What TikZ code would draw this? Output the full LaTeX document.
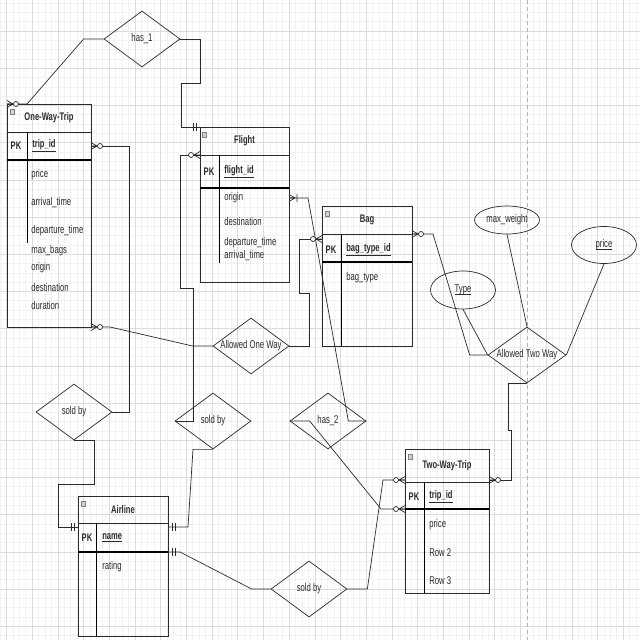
\documentclass[tikz,border=0pt]{standalone}
\usepackage{fontspec}
\setmainfont{Liberation Sans}[FakeStretch=0.69]
\usetikzlibrary{positioning,shapes.geometric,calc}
\definecolor{InkDark}{HTML}{2B2B2B}
\definecolor{GridMinor}{HTML}{F2F2F2}
\definecolor{GridMajor}{HTML}{DCDCDC}

% dotted underline for the ellipse labels
\newcommand{\dotund}[1]{\setbox0\hbox{#1}\rlap{\lower2pt\hbox to \wd0{%
  \leaders\hbox to 1pt{\hss\vrule width 0.5pt height 0.4pt\hss}\hfill}}\box0}

\tikzset{
  zmany/.pic={\draw[InkDark] (0,-3.5) -- (6,0) -- (0,3.5) (0,0) -- (6,0);
              \draw[InkDark,fill=white] (9,0) circle (2.5pt);},
  mone/.pic={\draw[InkDark] (4,-4) -- (4,4) (7,-4) -- (7,4);},
  omany/.pic={\draw[InkDark] (0,-3.5) -- (6,0) -- (0,3.5) (0,0) -- (6,0) (8,-4) -- (8,4);},
}

\begin{document}
\begin{tikzpicture}[x=1pt,y=-1pt,line width=0.7pt,
  every node/.style={font=\fontsize{11.2}{12}\selectfont, text=InkDark},
  hd/.style={draw=InkDark, inner sep=0pt, outer sep=0pt,
             font=\bfseries\fontsize{11}{12}\selectfont},
  rw/.style={draw=InkDark, inner sep=0pt, outer sep=0pt},
  att/.style={anchor=west, inner sep=0pt},
  pk/.style={inner sep=0pt, font=\bfseries\fontsize{11}{12}\selectfont},
  rel/.style={draw=InkDark, diamond, inner sep=0pt, minimum width=76pt, minimum height=56pt},
  prop/.style={draw=InkDark, ellipse, inner sep=0pt, minimum width=65pt},
  mns/.style={draw=gray, fill=gray!35, minimum width=4pt, minimum height=5pt, inner sep=0pt, line width=0.3pt},
  ln/.style={draw=InkDark},
]
  \useasboundingbox (0,0) rectangle (640,640);
  \fill[white] (0,0) rectangle (640,640);

  % Grid
  \foreach \k [evaluate=\k as \gx using 6.3+6.425*\k] in {-1,...,98}
    \draw[GridMinor,line width=0.4pt] (\gx,0) -- (\gx,640);
  \foreach \k [evaluate=\k as \gy using 30.9+9.3*\k] in {-4,...,66}
    \draw[GridMinor,line width=0.4pt] (0,\gy) -- (640,\gy);
  \foreach \k [evaluate=\k as \gx using 6.3+25.7*\k] in {0,...,24}
    \draw[GridMajor,line width=0.4pt] (\gx,0) -- (\gx,640);
  \foreach \k [evaluate=\k as \gy using 30.9+37.2*\k] in {-1,...,16}
    \draw[GridMajor,line width=0.4pt] (0,\gy) -- (640,\gy);
  \draw[gray!60,line width=0.6pt,dash pattern=on 4pt off 3pt] (527,0) -- (527,640);

  % One-Way-Trip
  \node[hd, minimum width=84pt, minimum height=28pt, anchor=north west] (owthd) at (7,104) {One-Way-Trip};
  \node[rw, minimum width=84pt, minimum height=28pt, below=0pt of owthd] (owtpk) {};
  \node[rw, minimum width=84pt, minimum height=167pt, below=0pt of owtpk] (owtbd) {};
  \draw[line width=1.1pt] (owtpk.south west) -- (owtpk.south east);
  \draw ([xshift=20pt]owtpk.north west) -- ++(0,111);
  \node[mns, below right=5pt and 3pt of owthd.north west] (owtmn) {};
  \node[pk] (owtpkl) at (16,146) {PK};
  \node[att, pk] (owtid) at (32,146) {\underline{trip\_id}};
  \foreach \t/\y in {price/175, arrival\_time/203, departure\_time/231, max\_bags/251,
                     origin/268, destination/287, duration/305}
    \node[att] at (31,\y) {\t};

  % Flight
  \node[hd, minimum width=89pt, minimum height=28pt, anchor=north west] (flthd) at (200,127) {Flight};
  \node[rw, minimum width=89pt, minimum height=33pt, below=0pt of flthd] (fltpk) {};
  \node[rw, minimum width=89pt, minimum height=94pt, below=0pt of fltpk] (fltbd) {};
  \draw[line width=1.1pt] (fltpk.south west) -- (fltpk.south east);
  \draw ([xshift=19pt]fltpk.north west) -- ++(0,108);
  \node[mns, below right=5pt and 2pt of flthd.north west] (fltmn) {};
  \node[pk] (fltpkl) at (209,172) {PK};
  \node[att, pk] (fltid) at (224,172) {\underline{flight\_id}};
  \foreach \t/\y/\n in {origin/198/fltorg, destination/221/fltdst,
                        departure\_time/243/fltdep, arrival\_time/256/fltarr}
    \node[att] (\n) at (224,\y) {\t};

  % Bag
  \node[hd, minimum width=90pt, minimum height=28pt, anchor=north west] (baghd) at (322,206) {Bag};
  \node[rw, minimum width=90pt, minimum height=28pt, below=0pt of baghd] (bagpk) {};
  \node[rw, minimum width=90pt, minimum height=84pt, below=0pt of bagpk] (bagbd) {};
  \draw[line width=1.1pt] (bagpk.south west) -- (bagpk.south east);
  \draw ([xshift=19pt]bagpk.north west) -- ([xshift=19pt]bagbd.south west);
  \node[mns, below right=5pt and 3pt of baghd.north west] (bagmn) {};
  \node[pk] (bagpkl) at (331,250) {PK};
  \node[att, pk] (bagid) at (346,250) {\underline{bag\_type\_id}};
  \node[att] (bagtyp) at (346,278) {bag\_type};

  % Airline
  \node[hd, minimum width=90pt, minimum height=27pt, anchor=north west] (airhd) at (78,496) {Airline};
  \node[rw, minimum width=90pt, minimum height=29pt, below=0pt of airhd] (airpk) {};
  \node[rw, minimum width=90pt, minimum height=84pt, below=0pt of airpk] (airbd) {};
  \draw[line width=1.1pt] (airpk.south west) -- (airpk.south east);
  \draw ([xshift=18pt]airpk.north west) -- ([xshift=18pt]airbd.south west);
  \node[mns, below right=5pt and 3pt of airhd.north west] (airmn) {};
  \node[pk] (airpkl) at (87,538) {PK};
  \node[att, pk] (airid) at (102,538) {\underline{name}};
  \node[att] (airrat) at (102,567) {rating};

  % Two-Way-Trip
  \node[hd, minimum width=84pt, minimum height=33pt, anchor=north west] (twthd) at (405,449) {Two-Way-Trip};
  \node[rw, minimum width=84pt, minimum height=27pt, below=0pt of twthd] (twtpk) {};
  \node[rw, minimum width=84pt, minimum height=84pt, below=0pt of twtpk] (twtbd) {};
  \draw[line width=1.1pt] (twtpk.south west) -- (twtpk.south east);
  \draw ([xshift=19pt]twtpk.north west) -- ([xshift=19pt]twtbd.south west);
  \node[mns, below right=5pt and 3pt of twthd.north west] (twtmn) {};
  \node[pk] (twtpkl) at (414,497) {PK};
  \node[att, pk] (twtid) at (429,497) {\underline{trip\_id}};
  \foreach \t/\y in {price/525, Row 2/553, Row 3/581}
    \node[att] at (429,\y) {\t};

  % Relationships
  \node[rel, label=center:{has\_1}] (has1) at (142,39) {};
  \node[rel, label=center:{Allowed One Way}] (aow) at (251,346) {};
  \node[rel, label=center:{sold by}] (sb1) at (74,412) {};
  \node[rel, label=center:{sold by}] (sb2) at (213,421) {};
  \node[rel, label=center:{has\_2}] (has2) at (328,421) {};
  \node[rel, label=center:{sold by}] (sb3) at (309,589) {};
  \node[rel, minimum width=78pt, label=center:{Allowed Two Way}] (atw) at (527,355) {};

  % Attributes of Allowed Two Way
  \node[prop, minimum height=28pt] (mw) at (507,220) {max\_weight};
  \node[prop, minimum height=37pt] (pr) at (604,245) {\dotund{price}};
  \node[prop, minimum height=38pt] (ty) at (463,290) {\dotund{Type}};

  % Connectors
  \draw[ln] (has1.west) -- ++(-20,0) -- ([xshift=20pt]owthd.north west) -- (owthd.north west);
  \draw[ln] (has1.east) -- ++(20,0) -- ++(0,44) -- ++(-19,0) |- (flthd.north west);
  \draw[ln] (owtpk.east) -- ++(38,0) |- (sb1.east);
  \draw[ln] (flthd.south west) -- ++(-20,0) -- ++(0,133) -- ++(13,0) |- (sb2.west);
  \draw[ln] (owtbd.south east) -- ++(19,0) -- ([xshift=-20pt]aow.west) -- (aow.west);
  \draw[ln] (aow.east) -- ++(20,0) -- ++(0,-53) -- ++(-10,0) |- ([yshift=-5pt]bagpk.north west);
  \draw[ln] (fltbd.east |- fltorg) -- ++(19,0) -- ([xshift=-18pt]has2.east) -- (has2.east);
  \draw[ln] (has2.west) -- ++(20,0) -- ([xshift=-24pt]twtpk.south west) -- (twtpk.south west);
  \draw[ln] (sb3.east) -- ++(20,0) -- ([xshift=-22pt,yshift=2pt]twthd.south west) -- ([yshift=2pt]twthd.south west);
  \draw[ln] (sb3.west) -- ++(-19,0) -- ([xshift=12pt]airpk.south east) -- (airpk.south east);
  \draw[ln] (sb1.south) -- ++(20,0) -- ++(0,44) -- ++(-36,0) |- ([yshift=-4pt]airhd.south west);
  \draw[ln] (sb2.south) -- ++(-20,0) -- ([xshift=20pt,yshift=-4pt]airhd.south east) -- ([yshift=-4pt]airhd.south east);
  \draw[ln] (baghd.south east) -- ++(21,0) -- ([xshift=-18pt]atw.west) -- (atw.west);
  \draw[ln] (ty.south) -- (atw.west);
  \draw[ln] (mw.south) -- (atw.north);
  \draw[ln] (pr.south) -- (atw.east);
  \draw[ln] (atw.south) -- ++(-19,0) -- ++(0,47) -- ++(3,0) |- ([yshift=2pt]twthd.south east);

  % Cardinality marks
  \pic at (owthd.north west) {zmany};
  \pic[rotate=180] at (flthd.north west) {mone};
  \pic at (owtpk.east) {zmany};
  \pic[rotate=180] at (flthd.south west) {zmany};
  \pic at (owtbd.south east) {zmany};
  \pic[rotate=180] at ([yshift=-5pt]bagpk.north west) {zmany};
  \pic at (fltbd.east |- fltorg) {omany};
  \pic[rotate=180] at (twtpk.south west) {zmany};
  \pic[rotate=180] at ([yshift=2pt]twthd.south west) {zmany};
  \pic at (airpk.south east) {mone};
  \pic[rotate=180] at ([yshift=-4pt]airhd.south west) {mone};
  \pic at ([yshift=-4pt]airhd.south east) {mone};
  \pic at (baghd.south east) {zmany};
  \pic at ([yshift=2pt]twthd.south east) {zmany};
\end{tikzpicture}
\end{document}
